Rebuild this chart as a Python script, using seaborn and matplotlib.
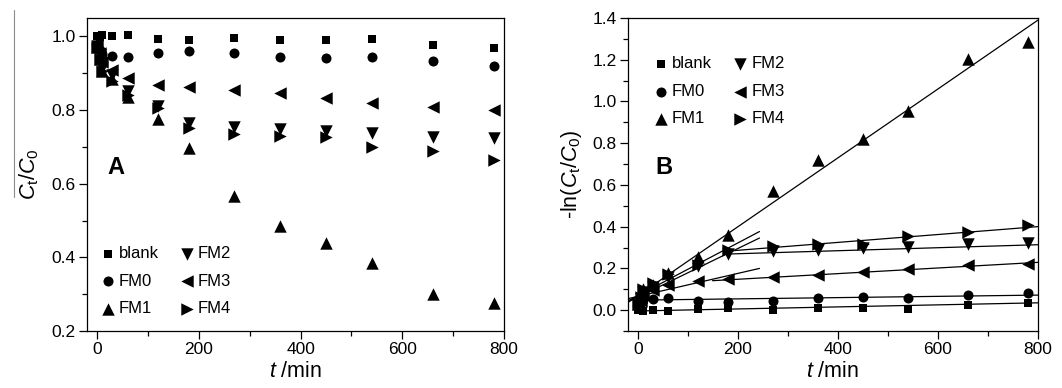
import numpy as np
import pandas as pd
import matplotlib
matplotlib.use('Agg')
import matplotlib.pyplot as plt
from matplotlib.lines import Line2D
from matplotlib.ticker import MultipleLocator
import seaborn as sns

sns.set_style('ticks')
plt.rcParams['font.family'] = ['Liberation Sans', 'DejaVu Sans']
plt.rcParams['mathtext.fontset'] = 'custom'
plt.rcParams['mathtext.rm'] = 'Liberation Sans'
plt.rcParams['mathtext.it'] = 'Liberation Sans:italic'
plt.rcParams['mathtext.bf'] = 'Liberation Sans:bold'
plt.rcParams['axes.edgecolor'] = 'black'
plt.rcParams['text.color'] = 'black'
plt.rcParams['xtick.color'] = 'black'
plt.rcParams['ytick.color'] = 'black'
plt.rcParams['axes.labelcolor'] = 'black'

# sampling times (min)
t = [0, 5, 10, 30, 60, 120, 180, 270, 360, 450, 540, 660, 780]

# C_t/C_0 per sample
blank = [1.0, 0.998, 1.005, 1.0, 1.003, 0.994, 0.991, 0.997, 0.991, 0.989, 0.994, 0.977, 0.968]
fm0 = [0.975, 0.962, 0.952, 0.946, 0.943, 0.955, 0.961, 0.956, 0.945, 0.941, 0.944, 0.932, 0.920]
fm1 = [0.97, 0.94, 0.905, 0.885, 0.835, 0.775, 0.698, 0.566, 0.486, 0.440, 0.386, 0.300, 0.277]
fm2 = [0.975, 0.95, 0.915, 0.895, 0.852, 0.811, 0.765, 0.755, 0.748, 0.744, 0.739, 0.727, 0.725]
fm3 = [0.98, 0.955, 0.93, 0.91, 0.886, 0.868, 0.862, 0.855, 0.845, 0.832, 0.820, 0.807, 0.800]
fm4 = [0.97, 0.94, 0.905, 0.88, 0.84, 0.805, 0.750, 0.736, 0.729, 0.727, 0.700, 0.689, 0.664]

samples = ['blank', 'FM0', 'FM1', 'FM2', 'FM3', 'FM4']
series = [blank, fm0, fm1, fm2, fm3, fm4]
markers = ['s', 'o', '^', 'v', '<', '>']
msizes = [40, 52, 80, 80, 80, 80]

# linear fits of -ln(C_t/C_0): start, end, intercept, slope
fit_start = [5, 0, -20, -20, 180, -20, 149, -20, 180]
fit_end = [800, 800, 800, 243, 800, 243, 800, 243, 800]
fit_a = [-0.004, 0.048, 0.07, 0.063, 0.256, 0.066, 0.121, 0.07, 0.249]
fit_b = [0.0000488, 0.00003, 0.00165, 0.001163, 0.0000719, 0.000551, 0.000135, 0.001262, 0.000189]

rows = []
for name, vals in zip(samples, series):
    for ti, v in zip(t, vals):
        rows.append({'t': ti, 'c': v, 'lnc': -np.log(v), 'sample': name})
df = pd.DataFrame(rows)

fig = plt.figure(figsize=(10.62, 3.88), dpi=100)
axA = fig.add_axes([87 / 1062, 57 / 388, 417 / 1062, 313 / 388])
axB = fig.add_axes([628 / 1062, 57 / 388, 410 / 1062, 313 / 388])

for i in range(len(fit_a)):
    xs = np.array([fit_start[i], fit_end[i]], dtype=float)
    sns.lineplot(x=xs, y=fit_a[i] + fit_b[i] * xs, color='black', lw=0.9,
                 ax=axB, legend=False, zorder=2)

for name, mk, ms in zip(samples, markers, msizes):
    sub = df[df['sample'] == name]
    sns.scatterplot(data=sub, x='t', y='c', marker=mk, s=ms, color='black',
                    linewidth=0, ax=axA, label=name, zorder=3)
    sns.scatterplot(data=sub, x='t', y='lnc', marker=mk, s=ms, color='black',
                    linewidth=0, ax=axB, label=name, zorder=3)

axA.set_xlim(-20, 800)
axA.set_ylim(0.2, 1.05)
axB.set_xlim(-20, 800)
axB.set_ylim(-0.1, 1.4)

for ax in (axA, axB):
    ax.xaxis.set_major_locator(MultipleLocator(200))
    ax.xaxis.set_minor_locator(MultipleLocator(100))
    ax.yaxis.set_major_locator(MultipleLocator(0.2))
    ax.yaxis.set_minor_locator(MultipleLocator(0.1))
    ax.tick_params(which='major', direction='out', length=6, width=0.9, labelsize=12.5, pad=2)
    ax.tick_params(which='minor', direction='out', length=3.5, width=0.9)
    for sp in ax.spines.values():
        sp.set_linewidth(0.9)
        sp.set_color('black')
    ax.set_xlabel(r'$t$ /min', fontsize=15.5, labelpad=3)
    ax.legend_.remove()

axA.set_yticks([0.2, 0.4, 0.6, 0.8, 1.0])
axA.set_ylabel(r'$C_{\rm t}/C_{0}$', fontsize=15.5, labelpad=8)
axB.set_ylabel(r'-ln($C_{\rm t}/C_{0}$)', fontsize=15.5, labelpad=6)

hA, lA = axA.get_legend_handles_labels()
axA.legend(hA, lA, ncol=2, loc='lower left', bbox_to_anchor=(-0.01, 0.0),
           frameon=False, fontsize=12, handletextpad=0.05, handlelength=1.2,
           columnspacing=1.1, labelspacing=0.75)
hB, lB = axB.get_legend_handles_labels()
axB.legend(hB, lB, ncol=2, loc='upper left', bbox_to_anchor=(0.02, 0.925),
           frameon=False, fontsize=12, handletextpad=0.05, handlelength=1.2,
           columnspacing=1.1, labelspacing=0.75)

axA.text(0.05, 0.5, 'A', transform=axA.transAxes, fontsize=17, fontweight='bold')
axB.text(0.066, 0.5, 'B', transform=axB.transAxes, fontsize=17, fontweight='bold')

# thin grey rule at the left edge of the original scan
fig.add_artist(Line2D([14 / 1062, 14 / 1062], [1 - 10 / 388, 1 - 197 / 388],
                      color='0.55', lw=0.8))

fig.savefig('out.png', dpi=100)
